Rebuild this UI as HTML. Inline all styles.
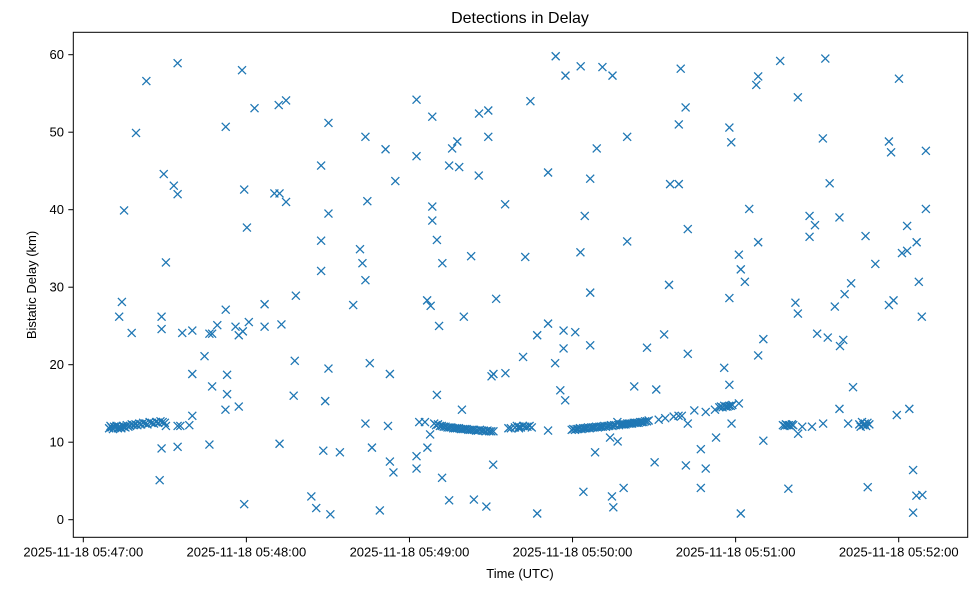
<!DOCTYPE html>
<html><head><meta charset="utf-8"><style>
html,body{margin:0;padding:0;background:#fff;}
svg{display:block;font-family:"Liberation Sans","DejaVu Sans",sans-serif;}
</style></head><body>
<svg id="chart" width="979" height="590" viewBox="0 0 979 590" xmlns="http://www.w3.org/2000/svg">
<rect width="979" height="590" fill="#fff"/>
<text x="520" y="23" font-size="16" text-anchor="middle" fill="#000">Detections in Delay</text>
<text x="520" y="578" font-size="13" text-anchor="middle" fill="#000">Time (UTC)</text>
<text x="0" y="0" font-size="13" text-anchor="middle" fill="#000" transform="translate(36,285) rotate(-90)">Bistatic Delay (km)</text>
<g id="xticks"></g>
<g id="yticks"></g>
<g id="marks"></g>
<rect x="73.3" y="32.3" width="894.4" height="505" fill="none" stroke="#000" stroke-width="1"/>
</svg>
<script>
// seconds after 2025-11-18 05:47:00
const xTickValues = [0, 60, 120, 180, 240, 300];
const xTickLabels = ["2025-11-18 05:47:00","2025-11-18 05:48:00","2025-11-18 05:49:00","2025-11-18 05:50:00","2025-11-18 05:51:00","2025-11-18 05:52:00"];
const yTickValues = [0, 10, 20, 30, 40, 50, 60];
const yTickLabels = ["0","10","20","30","40","50","60"];

const times = [
34.7,23.2,58.4,63.0,71.9,74.6,52.4,19.4,29.6,33.3,34.7,59.2,70.3,72.2,74.6,15.0,60.2,30.4,14.2,13.2,17.8,28.8,28.8,36.4,40.1,46.4,47.4,49.3,52.4,56.0,57.2,58.7,60.9,66.7,66.7,72.9,78.2,44.6,40.1,52.9,47.4,52.9,52.3,57.2,77.8,77.4,
9.5,10,10.4,10.9,11.3,11.8,12.2,12.7,13.1,13.6,14.0,14.5,15.0,15.5,16.0,16.6,17.2,17.8,18.5,19.2,19.9,20.6,21.3,22.0,22.8,23.6,24.4,25.2,26.0,26.8,27.6,28.4,29.2,30.0,
30.4,34.7,35.7,39.0,40.1,28.8,34.7,46.4,72.2,28.1,59.2,
122.6,128.4,145.6,149.0,149.0,90.2,103.8,111.2,122.6,135.7,137.6,134.6,138.3,87.5,114.8,145.5,104.5,90.2,128.4,128.4,155.2,87.5,130.1,101.8,102.7,103.8,87.5,132.1,142.7,99.3,126.5,127.8,151.9,130.9,140.0,90.2,105.4,112.8,150.2,150.9,155.3,89.0,130.1,139.3,103.8,112.1,123.6,125.7,127.6,126.6,
129.1,129.8,130.5,131.2,131.9,132.6,133.3,134,134.7,135.4,136.1,136.8,137.5,138.2,138.9,139.6,140.3,141,141.7,142.4,143.1,143.8,144.5,145.2,145.9,146.6,147.3,148,148.7,149.4,150.1,150.9,
156.4,157.3,160.3,88.3,94.4,106.2,112.8,114.1,122.6,122.6,150.8,132.0,83.9,85.7,90.9,109.1,134.6,143.7,148.3,
173.8,177.4,183.0,191.0,194.7,219.8,164.5,221.6,219.1,237.7,238.4,200.1,188.9,171.0,186.5,215.9,219.1,184.5,222.4,182.9,200.1,162.6,241.2,241.9,243.4,186.5,215.5,237.7,171.0,167.0,176.7,181.0,176.7,186.5,213.7,161.8,173.6,207.4,222.4,235.8,237.7,175.5,177.3,202.7,210.8,
158.8,159.5,160.3,161,161.8,162.6,163.4,164.2,165,171.0,
179.7,180.3,180.9,181.5,182.1,182.7,183.3,183.9,184.5,185.1,185.7,186.3,186.9,187.5,188.1,188.7,189.3,189.9,190.5,191.1,191.7,192.3,192.9,193.5,194.1,194.7,195.3,195.9,196.5,197.1,197.7,198.3,198.9,199.5,200.1,200.7,201.3,201.9,202.5,203.1,203.7,204.3,204.9,205.5,206.1,206.7,207.4,208.0,
211.7,214.1,217.2,219.0,220.2,224.8,229.0,232.4,234,234.6,235.2,235.8,236.4,237,237.6,238.2,238.8,241.2,222.4,238.5,193.8,196.6,188.3,227.2,232.8,210.2,221.7,229.0,184.0,194.5,195.0,198.8,227.2,167.0,241.9,
256.4,273.0,248.3,247.6,262.9,300.1,272.1,296.4,297.2,310.0,274.6,245.0,310.0,267.2,269.2,267.2,278.2,287.8,303.1,248.3,301.2,303.1,306.6,291.4,282.5,280.1,276.5,307.4,262.0,262.9,296.4,298.1,308.5,250.2,248.3,270.0,273.9,279.6,278.4,283.2,278.2,299.3,303.9,
257.4,258,258.5,259,259.6,260.2,260.7,261.2,263.0,264.5,268.1,272.2,281.4,
285.5,286,286.5,287,287.5,288,288.5,289.2,250.2,305.3,306.5,308.7,305.3,259.4,288.6
];
const delays = [
58.9,56.6,58.0,53.1,53.5,54.1,50.7,49.9,44.6,43.1,42.0,42.6,42.1,42.1,41.0,39.9,37.7,33.2,28.1,26.2,24.1,26.2,24.6,24.1,24.4,24.0,24.0,25.1,27.1,24.9,23.8,24.3,25.5,27.8,24.9,25.2,28.9,21.1,18.8,18.7,17.2,16.2,14.2,14.6,20.5,16.0,
11.8,12.1,11.9,11.7,12.0,11.9,12.1,11.8,12.0,11.9,11.8,12.1,12.0,11.9,12.2,12.0,12.1,12.3,12.2,12.3,12.2,12.4,12.3,12.5,12.4,12.3,12.6,12.5,12.4,12.6,12.5,12.7,12.6,12.5,
12.1,12.1,12.1,12.2,13.4,9.2,9.4,9.7,9.8,5.1,2.0,
54.2,52.0,52.4,52.8,49.4,51.2,49.4,47.8,46.9,47.9,48.8,45.7,45.5,45.7,43.7,44.4,41.1,39.5,40.4,38.6,40.7,36.0,36.1,34.9,33.1,30.9,32.1,33.1,34.0,27.7,28.3,27.6,28.5,25.0,26.2,19.5,20.2,18.8,18.5,18.8,18.9,15.3,16.1,14.2,12.4,12.1,12.6,12.6,11.0,9.3,
12.4,12.2,12.3,12.1,12.1,12.0,12.0,11.9,11.9,11.9,11.8,11.8,11.8,11.8,11.7,11.7,11.7,11.7,11.6,11.6,11.6,11.6,11.5,11.5,11.6,11.5,11.5,11.4,11.5,11.4,11.4,11.4,
11.8,11.8,11.8,8.9,8.7,9.3,7.5,6.1,8.2,6.6,7.1,5.4,3.0,1.5,0.7,1.2,2.5,2.6,1.7,
59.8,57.3,58.5,58.4,57.3,58.2,54.0,53.2,51.0,50.6,48.7,49.4,47.9,44.8,44.0,43.3,43.3,39.2,37.5,34.5,35.9,33.9,34.2,32.3,30.7,29.3,30.3,28.6,25.3,23.8,24.4,24.2,22.1,22.5,23.9,21.0,20.2,22.2,21.4,19.6,17.4,16.7,15.4,17.2,16.8,
11.9,12.1,12.0,11.9,12.1,12.0,12.0,12.1,11.9,11.5,
11.6,11.7,11.6,11.7,11.7,11.8,11.7,11.8,11.8,11.8,11.9,11.8,11.9,11.9,11.9,12.0,11.9,12.0,12.0,12.0,12.1,12.0,12.1,12.1,12.2,12.1,12.2,12.2,12.6,12.2,12.3,12.3,12.3,12.3,12.4,12.4,12.4,12.4,12.5,12.5,12.5,12.5,12.6,12.6,12.6,12.7,12.7,12.8,
12.9,13.1,13.3,13.4,13.4,14.1,13.9,14.2,14.5,14.6,14.5,14.7,14.6,14.6,14.7,14.7,14.8,15.0,12.4,12.4,10.6,10.1,8.7,9.1,10.6,7.4,7.0,6.6,3.6,3.0,1.6,4.1,4.1,0.8,0.8,
59.2,59.5,57.2,56.1,54.5,56.9,49.2,48.8,47.4,47.6,43.4,40.1,40.1,39.2,38.0,36.5,39.0,36.6,37.9,35.8,34.4,34.7,35.8,33.0,30.5,29.1,27.5,30.7,28.0,26.6,27.7,28.3,26.2,23.3,21.2,24.0,23.5,23.2,22.4,17.1,14.3,13.5,14.3,
12.2,12.1,12.3,12.2,12.2,12.1,12.3,12.2,11.1,12.0,12.0,12.4,12.4,
12.3,12.0,12.6,12.2,12.4,12.1,12.5,12.3,10.2,6.4,3.1,3.2,0.9,4.0,4.2
];

const NS = "http://www.w3.org/2000/svg";
function xScale(t){ return 83.3 + t * 2.718; }
function yScale(d){ return 519.7 - d * 7.75; }
function mk(tag, attrs){ const e = document.createElementNS(NS, tag); for (const k in attrs) e.setAttribute(k, attrs[k]); return e; }

const xg = document.getElementById("xticks");
xTickValues.forEach((v, i) => {
  const x = xScale(v);
  const tk = mk("line", {x1:x, x2:x, y1:537.3, y2:542.3, stroke:"#000", "stroke-width":1});
  
  
  xg.appendChild(tk);
  const lb = mk("text", {x:x, y:556.5, "font-size":13, "text-anchor":"middle", fill:"#000"});
  
  
  lb.textContent = xTickLabels[i];
  xg.appendChild(lb);
});
const yg = document.getElementById("yticks");
yTickValues.forEach((v, i) => {
  const y = yScale(v);
  const tk = mk("line", {x1:68.3, x2:73.3, y1:y, y2:y, stroke:"#000", "stroke-width":1});
  
  
  yg.appendChild(tk);
  const lb = mk("text", {x:64, y:y + 4.5, "font-size":13, "text-anchor":"end", fill:"#000"});
  
  
  lb.textContent = yTickLabels[i];
  yg.appendChild(lb);
});
const mg = document.getElementById("marks");
const r = 4;
times.forEach((t, i) => {
  const x = xScale(t), y = yScale(delays[i]);
  const p = mk("path", {d:`M${x-r},${y-r}L${x+r},${y+r}M${x-r},${y+r}L${x+r},${y-r}`, stroke:"#1f77b4", "stroke-width":1.3, fill:"none"});
  
  
  mg.appendChild(p);
});
</script>
</body></html>
